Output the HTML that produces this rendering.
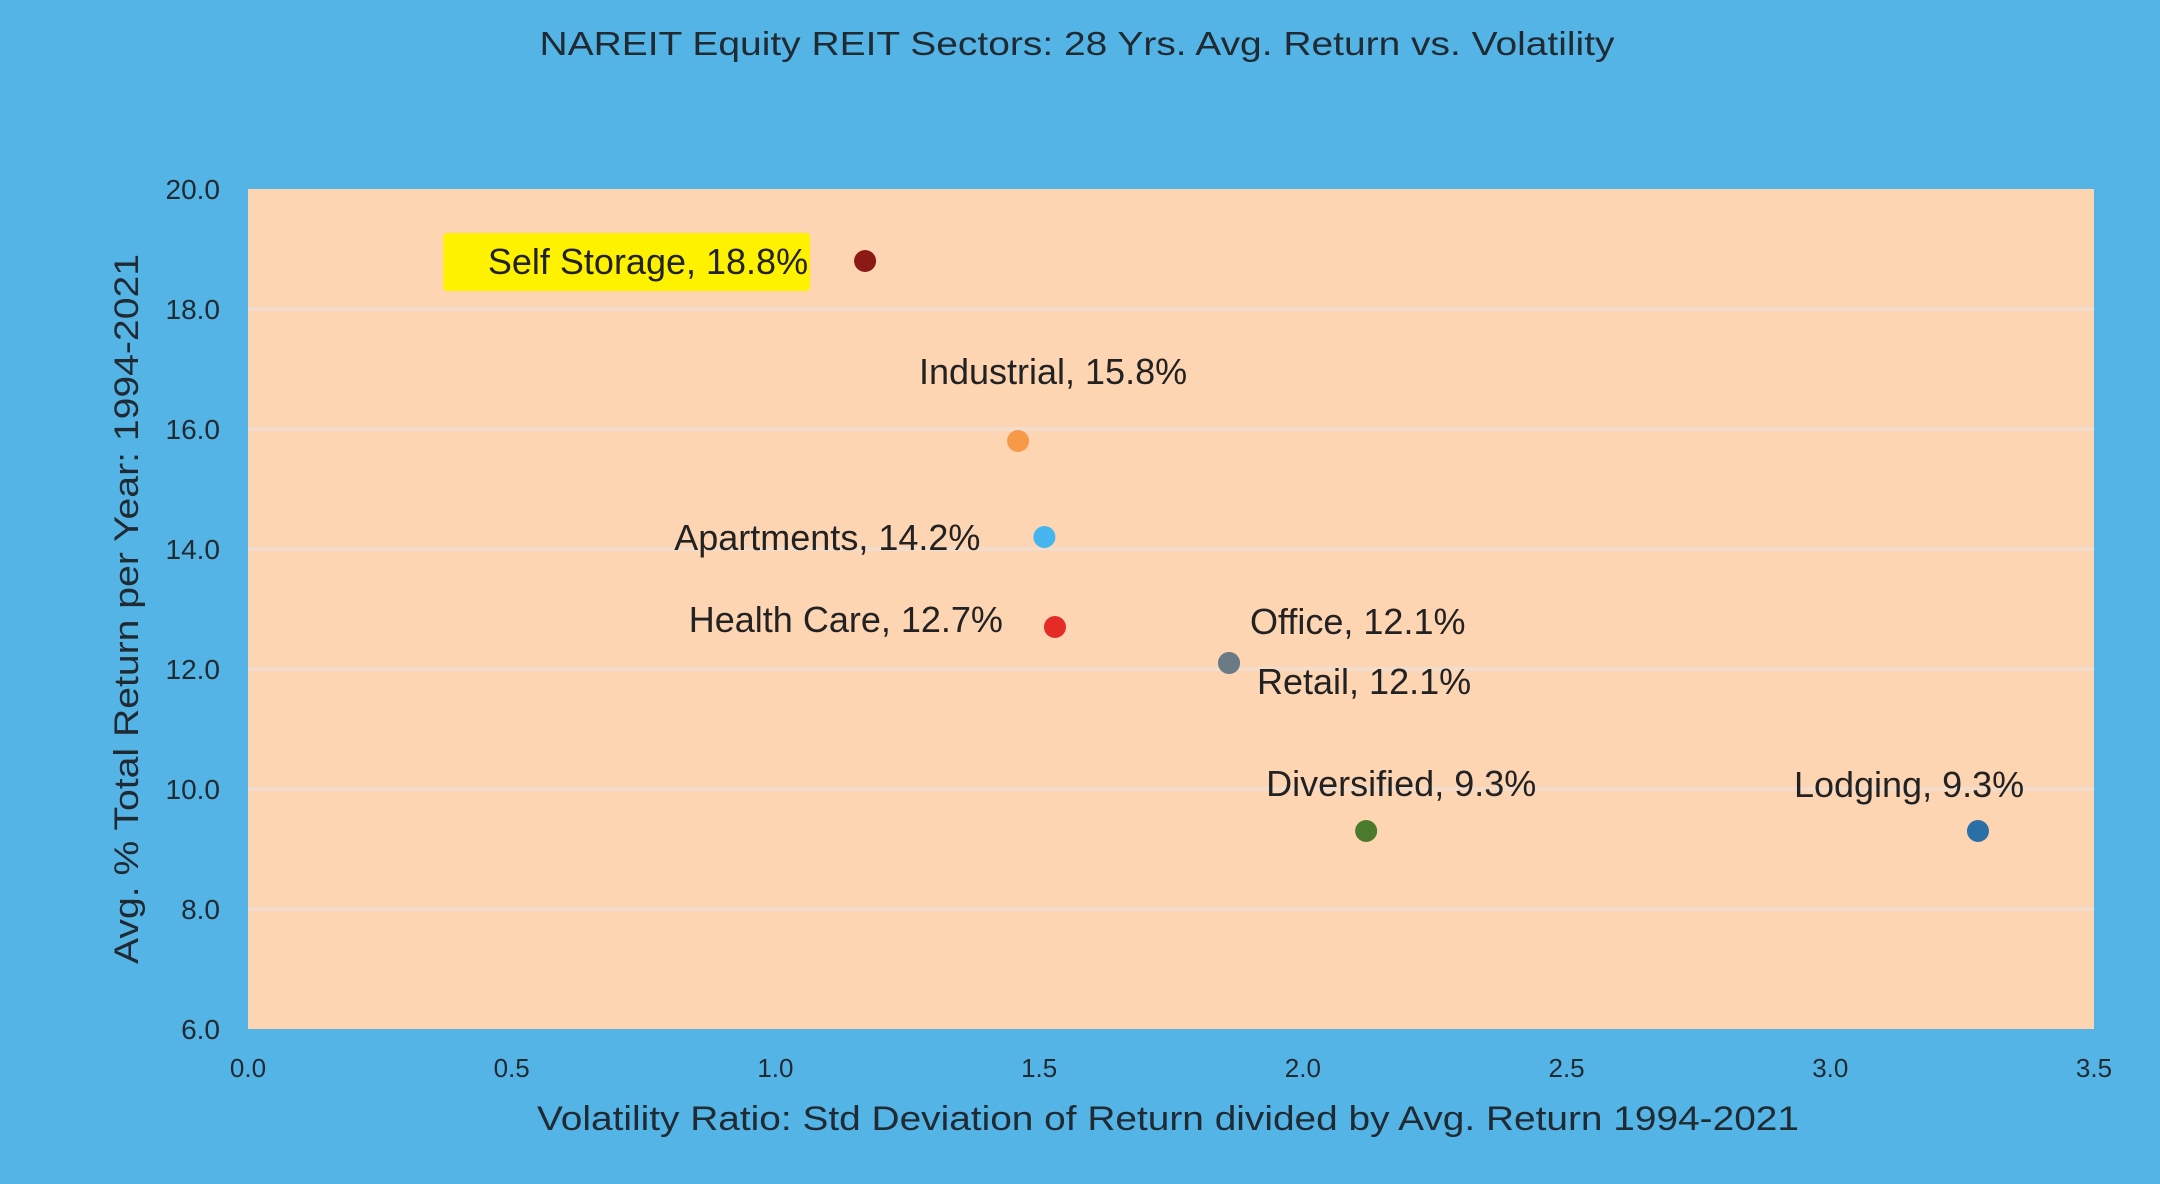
<!DOCTYPE html>
<html><head><meta charset="utf-8"><style>
html,body{margin:0;padding:0;background:#55b4e6;}
svg{display:block;font-family:"Liberation Sans",Arial,sans-serif;}
</style></head><body>
<svg id="chart" width="2160" height="1184" viewBox="0 0 2160 1184" xmlns="http://www.w3.org/2000/svg">
<rect x="0" y="0" width="2160" height="1184" fill="#55b4e6"/>
<text x="1077" y="55" text-anchor="middle" font-size="33" fill="#1f2a33" textLength="1075" lengthAdjust="spacingAndGlyphs">NAREIT Equity REIT Sectors: 28 Yrs. Avg. Return vs. Volatility</text>
<rect x="248" y="189" width="1846" height="840" fill="#fed5b3"/>
<g id="grid"></g>
<g id="yticks"></g>
<g id="xticks"></g>
<g id="points"></g>
<g id="labels"></g>
<text x="1168" y="1130" text-anchor="middle" font-size="34" fill="#1f2a33" textLength="1262" lengthAdjust="spacingAndGlyphs">Volatility Ratio: Std Deviation of Return divided by Avg. Return 1994-2021</text>
<text transform="translate(138,609) rotate(-90)" text-anchor="middle" font-size="34" fill="#1f2a33" textLength="710" lengthAdjust="spacingAndGlyphs">Avg. % Total Return per Year: 1994-2021</text>
</svg>
<script>
const categories = ["Self Storage","Industrial","Apartments","Health Care","Office","Retail","Diversified","Lodging"];
const volatility = [1.17,1.46,1.51,1.53,1.86,1.86,2.12,3.28];
const returns = [18.8,15.8,14.2,12.7,12.1,12.1,9.3,9.3];
const colors = ["#8c1a14","#f79a48","#46b4ee","#e52b26","#6b7b86","#6b7b86","#4c7a2c","#2b6fa7"];
const yTicks = [6,8,10,12,14,16,18,20];
const xTicks = [0,0.5,1,1.5,2,2.5,3,3.5];

const NS="http://www.w3.org/2000/svg";
const L=248,R=2094,T=189,B=1029;
function xs(v){return L+(v-0)/(3.5-0)*(R-L);}
function ys(v){return B-(v-6)/(20-6)*(B-T);}
function mk(tag,attrs,parent){const e=document.createElementNS(NS,tag);for(const k in attrs)e.setAttribute(k,attrs[k]);parent.appendChild(e);return e;}
const grid=document.getElementById('grid'),yt=document.getElementById('yticks'),xt=document.getElementById('xticks'),pts=document.getElementById('points'),lbs=document.getElementById('labels');
yTicks.forEach(v=>{
  if(v>6&&v<20){const g=mk('line',{x1:L,x2:R,y1:ys(v),y2:ys(v),stroke:'#f2dccb','stroke-width':4},grid);
  
  }
  const t=mk('text',{x:220,y:ys(v)+10,'text-anchor':'end','font-size':28,fill:'#1f2a33'},yt);
  
  
  t.textContent=v.toFixed(1);
});
xTicks.forEach(v=>{
  const t=mk('text',{x:xs(v),y:1077,'text-anchor':'middle','font-size':26,fill:'#1f2a33'},xt);
  
  
  t.textContent=v.toFixed(1);
});
// label offsets relative to point: [dx, dy, anchor]
const offs=[[-57,0,'end'],[35,-70,'middle'],[-64,0,'end'],[-52,-8,'end'],[21,-42,'start'],[28,18,'start'],[-100,-48,'start'],[-184,-47,'start']];
categories.forEach((c,i)=>{
  const cx=xs(volatility[i]),cy=ys(returns[i]);
  const p=mk('circle',{cx:cx,cy:cy,r:11,fill:colors[i]},pts);
  
  
  const txt=c+', '+returns[i].toFixed(1)+'%';
  const o=offs[i];
  if(i===0){
    const bg=mk('rect',{x:cx+o[0]-365,y:cy-28,width:367,height:58,fill:'#fff200',rx:4},lbs);
    
    
  }
  const t=mk('text',{x:cx+o[0],y:cy+o[1]+13,'text-anchor':o[2],'font-size':36,fill:'#222'},lbs);
  
  
  t.textContent=txt;
});
</script>
</body></html>
